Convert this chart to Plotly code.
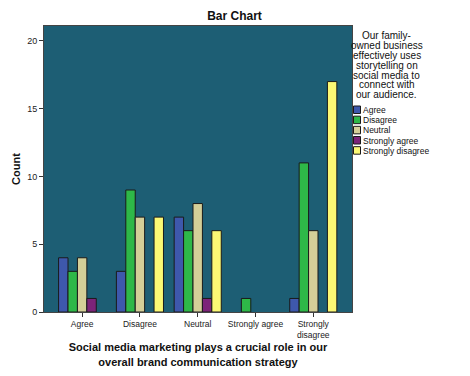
import plotly.graph_objects as go

categories = ["Agree", "Disagree", "Neutral", "Strongly agree", "Strongly<br>disagree"]
series_names = ["Agree", "Disagree", "Neutral", "Strongly agree", "Strongly disagree"]
agree = [4, 3, 7, 0, 1]
disagree = [3, 9, 6, 1, 11]
neutral = [4, 7, 8, 0, 6]
strongly_agree = [1, 0, 1, 0, 0]
strongly_disagree = [0, 7, 6, 0, 17]
series_values = [agree, disagree, neutral, strongly_agree, strongly_disagree]
colors = ["#3e58ac", "#2eb848", "#d4cf98", "#7c2479", "#fbf874"]
y_ticks = [0, 5, 10, 15, 20]
legend_title_lines = ["Our family-", "owned business", "effectively uses", "storytelling on",
                      "social media to", "connect with", "our audience."]

FONT = "Liberation Sans, Arial, sans-serif"
W, H = 470, 376
ML, MR, MT, MB = 44, 118, 26, 64
PW, PH = W - ML - MR, H - MT - MB


def px(x):
    return (x - ML) / PW


def py(y):
    return (H - MB - y) / PH


fig = go.Figure()
for name, vals, col in zip(series_names, series_values, colors):
    fig.add_trace(go.Bar(
        x=list(range(len(categories))), y=vals, name=name,
        marker=dict(color=col,
                    line=dict(color="#1a1a1a", width=[1 if v > 0 else 0 for v in vals])),
        showlegend=False,
    ))

# legend title, tight SPSS-style line spacing
for i, line in enumerate(legend_title_lines):
    fig.add_annotation(xref="paper", yref="paper", x=px(387), y=py(35.5 + i * 9.9),
                       text=line, showarrow=False, xanchor="center", yanchor="middle",
                       font=dict(family=FONT, size=10, color="#111"))

# compact legend items
leg_x0 = 353.5
leg_y0 = 106
step = 10.17
for i, (name, col) in enumerate(zip(series_names, colors)):
    y_top = leg_y0 + i * step
    fig.add_shape(type="rect", xref="paper", yref="paper",
                  x0=px(leg_x0), x1=px(leg_x0 + 7),
                  y0=py(y_top + 7.5), y1=py(y_top),
                  fillcolor=col, line=dict(color="#1a1a1a", width=1))
    fig.add_annotation(xref="paper", yref="paper",
                       x=px(leg_x0 + 7.5), y=py(y_top + 4),
                       text=name, showarrow=False, xanchor="left", yanchor="middle",
                       font=dict(family=FONT, size=8.5, color="#111"))

fig.update_layout(
    width=W, height=H,
    margin=dict(l=ML, r=MR, t=MT, b=MB, autoexpand=False),
    paper_bgcolor="white",
    plot_bgcolor="#1d5e74",
    barmode="group", bargap=0.185, bargroupgap=0,
    title=dict(text="<b>Bar Chart</b>", x=234.5 / W, xanchor="center", y=1 - 16 / H, yanchor="middle",
               font=dict(family=FONT, size=12, color="#111")),
    font=dict(family=FONT, color="#222"),
    xaxis=dict(
        tickmode="array", tickvals=list(range(len(categories))), ticktext=categories,
        range=[-0.66, 4.67], ticks="outside", ticklen=4, tickcolor="#333",
        tickfont=dict(family=FONT, size=8.5, color="#222"),
        showline=True, linecolor="#444", mirror=True, showgrid=False, automargin=False,
        title=dict(text="<b>Social media marketing plays a crucial role in our<br>overall brand communication strategy</b>",
                   font=dict(family=FONT, size=11, color="#111"), standoff=4),
    ),
    yaxis=dict(
        range=[0, 21.1], tickvals=y_ticks, ticks="outside", ticklen=4, tickcolor="#333",
        tickfont=dict(family=FONT, size=9, color="#222"),
        showline=True, linecolor="#444", mirror=True, showgrid=False, zeroline=False, automargin=False,
        title=dict(text="<b>Count</b>", font=dict(family=FONT, size=11, color="#111"), standoff=4),
    ),
)

fig.write_html("out.html", config={"displayModeBar": False},
               post_script="document.body.style.margin='0px';")
